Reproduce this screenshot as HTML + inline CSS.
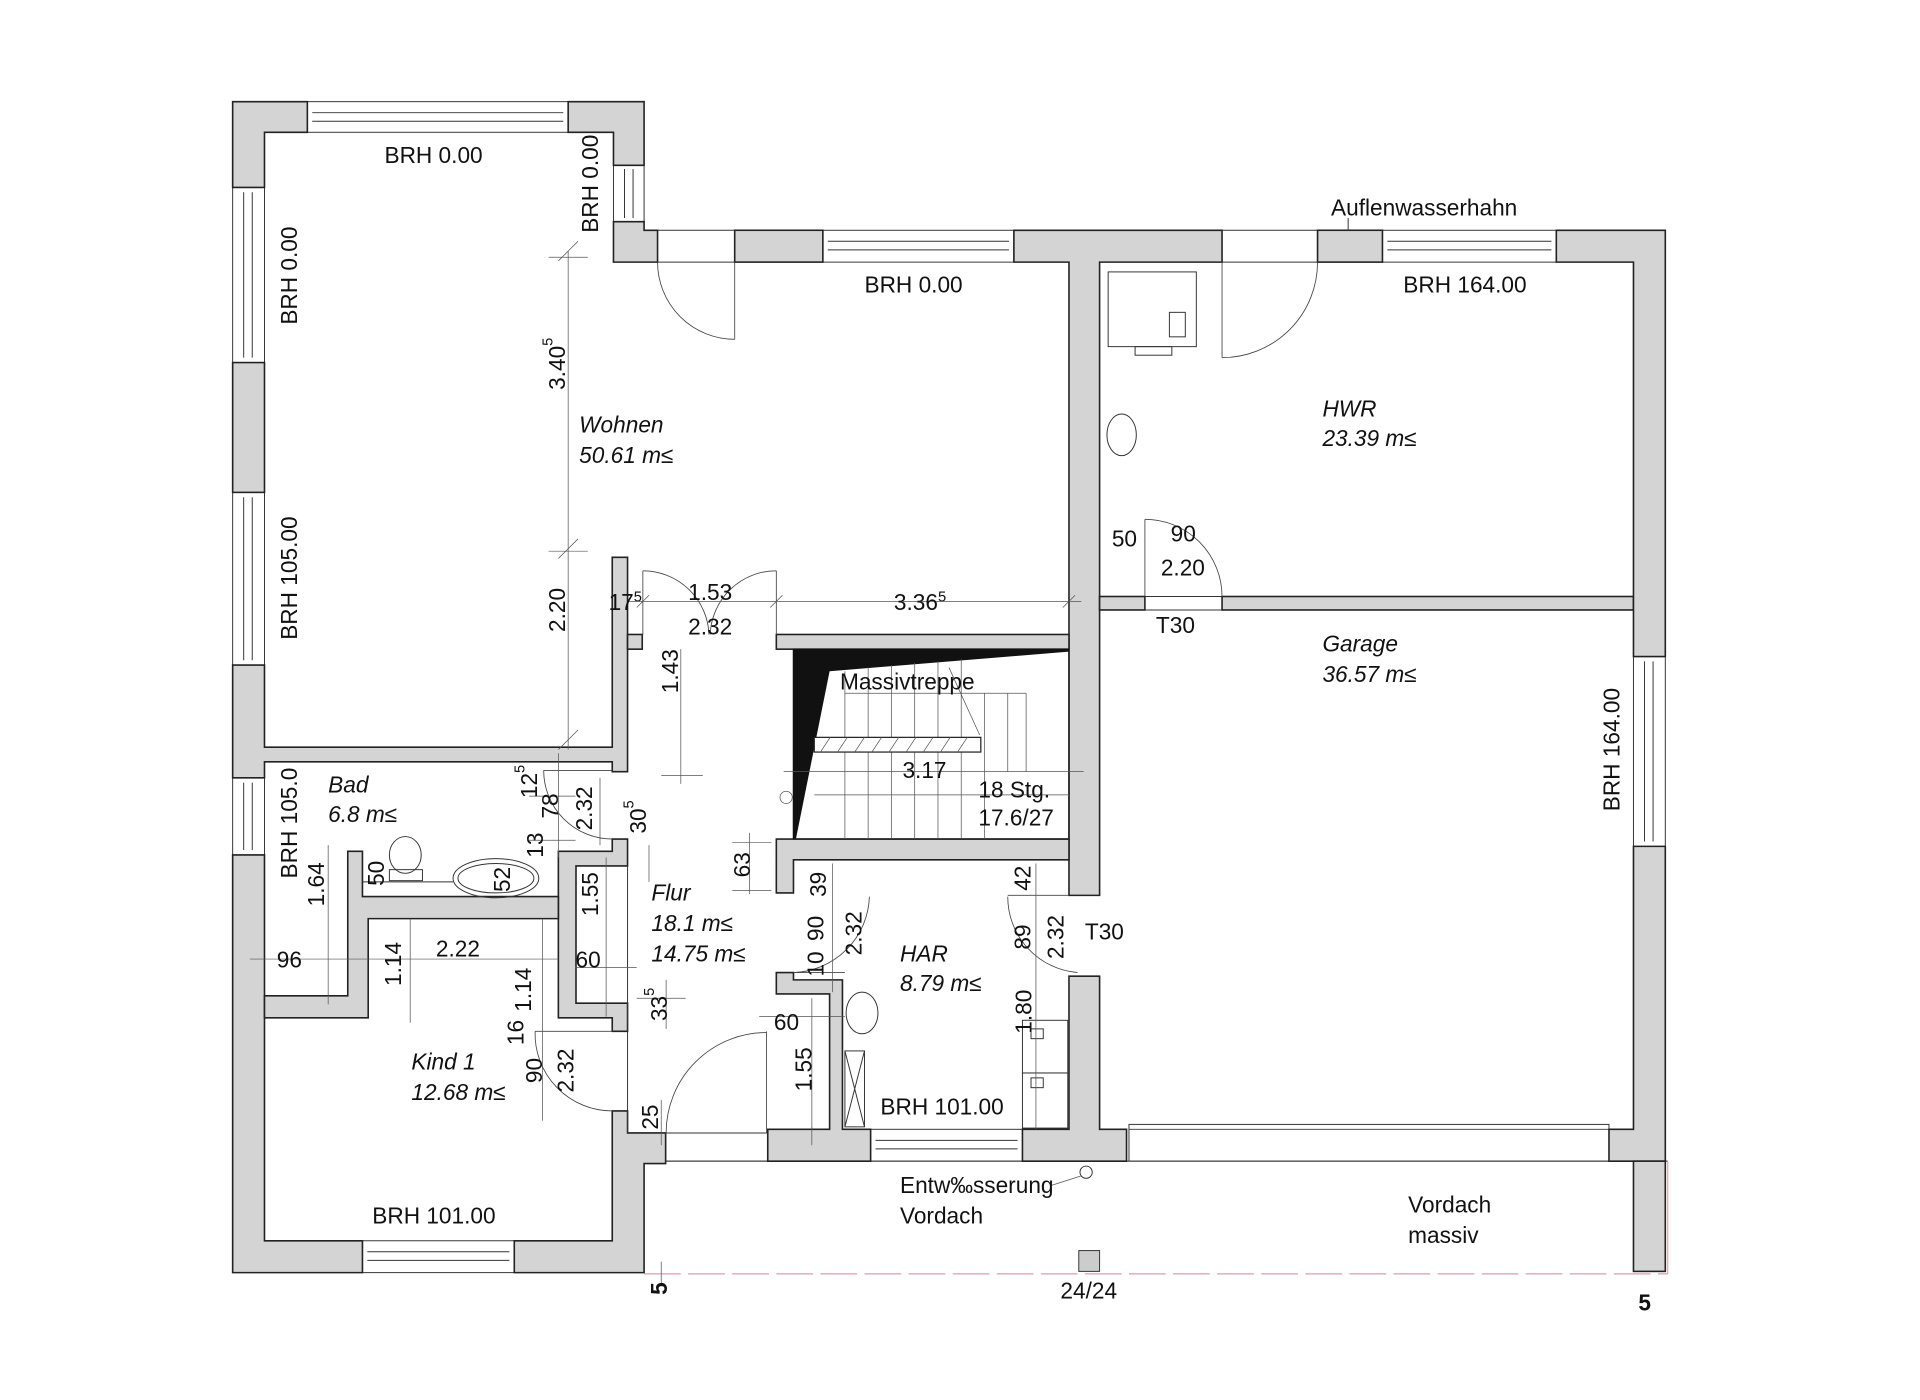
<!DOCTYPE html>
<html><head><meta charset="utf-8"><style>
html,body{margin:0;padding:0;background:#fff;}
svg{display:block;}
text{font-family:"Liberation Sans",sans-serif;font-size:18.5px;fill:#111;}
.i{font-style:italic;}
.w{fill:#d4d4d4;stroke:#222;stroke-width:1.3;}
.l{fill:none;stroke:#333;stroke-width:0.8;}
.t{fill:none;stroke:#555;stroke-width:0.6;}
</style></head><body>
<svg width="1920" height="1400" viewBox="0 0 1568 1143" preserveAspectRatio="none" xmlns="http://www.w3.org/2000/svg">
<!-- windows horizontal -->
<g class="l">
<rect x="251" y="83" width="213" height="25"/><line x1="255" y1="92" x2="460" y2="92"/><line x1="255" y1="99" x2="460" y2="99"/>
<rect x="501" y="135" width="25" height="46"/><line x1="510" y1="138" x2="510" y2="178"/><line x1="517" y1="138" x2="517" y2="178"/>
<line x1="537" y1="188" x2="600" y2="188"/><line x1="537" y1="214" x2="600" y2="214"/>
<rect x="672" y="188" width="156" height="26"/><line x1="676" y1="197" x2="824" y2="197"/><line x1="676" y1="204" x2="824" y2="204"/>
<line x1="998" y1="188" x2="1076" y2="188"/><line x1="998" y1="214" x2="1076" y2="214"/>
<rect x="1129" y="188" width="142" height="26"/><line x1="1133" y1="197" x2="1267" y2="197"/><line x1="1133" y1="204" x2="1267" y2="204"/>
<rect x="1334" y="536" width="26" height="155"/><line x1="1343" y1="540" x2="1343" y2="687"/><line x1="1350" y1="540" x2="1350" y2="687"/>
<rect x="190" y="153" width="26" height="143"/><line x1="199" y1="157" x2="199" y2="292"/><line x1="206" y1="157" x2="206" y2="292"/>
<rect x="190" y="402" width="26" height="141"/><line x1="199" y1="406" x2="199" y2="539"/><line x1="206" y1="406" x2="206" y2="539"/>
<rect x="190" y="635" width="26" height="63"/><line x1="199" y1="639" x2="199" y2="694"/><line x1="206" y1="639" x2="206" y2="694"/>
<rect x="296" y="1013" width="124" height="26"/><line x1="300" y1="1022" x2="416" y2="1022"/><line x1="300" y1="1029" x2="416" y2="1029"/>
<rect x="711" y="922" width="124" height="26"/><line x1="715" y1="931" x2="831" y2="931"/><line x1="715" y1="938" x2="831" y2="938"/>
<rect x="922" y="918" width="392" height="30"/><line x1="922" y1="922" x2="1314" y2="922"/>
<line x1="543" y1="925" x2="627" y2="925"/><line x1="543" y1="948" x2="627" y2="948"/>
<line x1="935" y1="487" x2="998" y2="487"/><line x1="935" y1="498" x2="998" y2="498"/>
<line x1="873" y1="731" x2="898" y2="731"/><line x1="873" y1="797" x2="898" y2="797"/>
</g>
<!-- Vordach -->
<g>
<line x1="526" y1="948" x2="1362" y2="948" class="l"/>
<line x1="1362" y1="948" x2="1362" y2="1040" stroke="#c99" stroke-width="0.8"/>
<line x1="526" y1="1040" x2="1362" y2="1040" stroke="#d9a0a8" stroke-width="1" stroke-dasharray="30,6"/>
<rect x="881" y="1021" width="17" height="17" fill="#ccc" stroke="#333" stroke-width="0.8"/>
<circle cx="887" cy="957" r="5" fill="#fff" stroke="#333" stroke-width="0.8"/>
<line x1="858" y1="968" x2="883" y2="960" class="t"/>
</g>
<!-- walls -->
<g class="w">
<polygon points="190,83 251,83 251,108 216,108 216,153 190,153"/>
<polygon points="464,83 526,83 526,135 501,135 501,108 464,108"/>
<polygon points="501,181 526,181 526,188 537,188 537,214 501,214"/>
<rect x="600" y="188" width="72" height="26"/>
<polygon points="828,188 998,188 998,214 898,214 898,731 873,731 873,214 828,214"/>
<rect x="898" y="487" width="37" height="11"/>
<rect x="998" y="487" width="336" height="11"/>
<rect x="1076" y="188" width="53" height="26"/>
<polygon points="1271,188 1360,188 1360,536 1334,536 1334,214 1271,214"/>
<polygon points="1334,691 1360,691 1360,948 1314,948 1314,922 1334,922"/>
<rect x="1334" y="948" width="26" height="90"/>
<polygon points="873,797 898,797 898,922 920,922 920,948 835,948 835,922 873,922"/>
<polygon points="634,794 648,794 648,800 688,800 688,922 711,922 711,948 627,948 627,922 677.5,922 677.5,811.5 634,811.5"/>
<polygon points="634,685 873,685 873,702 648,702 648,729 634,729"/>
<rect x="634" y="518" width="239" height="12"/>
<rect x="190" y="296" width="26" height="106"/>
<polygon points="190,543 216,543 216,610 500,610 500,455 512.5,455 512.5,630 500,630 500,622 216,622 216,635 190,635"/>
<rect x="512.5" y="518" width="12" height="12"/>
<polygon points="190,698 216,698 216,1013 296,1013 296,1039 190,1039"/>
<polygon points="420,1013 500,1013 500,907 512.5,907 512.5,925 543.6,925 543.6,950 526,950 526,1039 420,1039"/>
<polygon points="456,695 500,695 500,685 512.5,685 512.5,707 470.4,707 470.4,819 512.5,819 512.5,842 500,842 500,831 456,831"/>
<polygon points="284,695 296,695 296,732 456,732 456,750 300.7,750 300.7,831 216,831 216,813 284,813"/>
</g>
<line x1="512.5" y1="707" x2="512.5" y2="925" class="l"/>
<!-- stairs -->
<g>
<rect x="648" y="530" width="225" height="155" fill="none" stroke="#222" stroke-width="1.2"/>
<polygon points="647.6,530 873,530 873,532 677.5,548 650,685 647.6,685" fill="#111"/>
<g class="t">
<line x1="690" y1="566" x2="838" y2="566"/><line x1="838" y1="566" x2="838" y2="630"/>
<line x1="665" y1="649" x2="873" y2="649"/>
<line x1="640" y1="630" x2="885" y2="630"/>
<line x1="690" y1="548" x2="690" y2="685"/><line x1="709" y1="545" x2="709" y2="685"/><line x1="728" y1="543" x2="728" y2="685"/><line x1="747" y1="541" x2="747" y2="685"/><line x1="766" y1="540" x2="766" y2="685"/><line x1="785" y1="538" x2="785" y2="685"/><line x1="804" y1="566" x2="804" y2="685"/><line x1="823" y1="566" x2="823" y2="630"/>
<line x1="775" y1="545" x2="800" y2="600"/>
<circle cx="642" cy="651" r="5"/>
</g>
<rect x="665" y="602" width="136" height="12" fill="#fff" stroke="#222" stroke-width="1"/>
<g class="t"><path d="M670,614l8,-12M684,614l8,-12M698,614l8,-12M712,614l8,-12M726,614l8,-12M740,614l8,-12M754,614l8,-12M768,614l8,-12M782,614l8,-12"/></g>
</g>
<!-- doors -->
<g class="t" style="stroke:#444;stroke-width:0.7">
<line x1="600" y1="214" x2="600" y2="277"/><path d="M600,277 A63,63 0 0 1 537,214"/>
<line x1="998" y1="214" x2="998" y2="292"/><path d="M998,292 A78,78 0 0 0 1076,214"/>
<line x1="935" y1="487" x2="935" y2="424"/><path d="M935,424 A63,63 0 0 1 998,487"/>
<line x1="525" y1="518" x2="525" y2="466"/><path d="M525,466 A54,54 0 0 1 579,518"/>
<line x1="634" y1="518" x2="634" y2="466"/><path d="M634,466 A54,54 0 0 0 580,518"/>
<line x1="444" y1="629" x2="500" y2="629"/><path d="M444,629 A56,56 0 0 0 500,685"/>
<line x1="437" y1="842" x2="500" y2="842"/><path d="M437,842 A63,63 0 0 0 500,907"/>
<line x1="626" y1="925" x2="626" y2="842"/><path d="M626,843 A82,82 0 0 0 544,925"/>
<line x1="648" y1="794" x2="690" y2="794"/><path d="M648,794 A64,64 0 0 0 710,732"/>
<line x1="823" y1="731" x2="873" y2="731"/><path d="M823,732 A62,62 0 0 0 880,794"/>
</g>
<!-- fixtures -->
<g class="l">
<rect x="905" y="222" width="72" height="61"/><rect x="955" y="255" width="13" height="20"/><rect x="927" y="283" width="30" height="7"/>
<ellipse cx="916" cy="355" rx="12" ry="17"/>
<ellipse cx="331" cy="698" rx="13" ry="15"/><rect x="318" y="710" width="27" height="9"/>
<line x1="296" y1="720" x2="370" y2="720"/>
<ellipse cx="405" cy="717" rx="35" ry="16"/><ellipse cx="405" cy="717" rx="31" ry="12"/>
<ellipse cx="704" cy="827" rx="13" ry="17"/>
<rect x="690" y="858" width="16" height="62"/><path d="M690,858L706,920M706,858L690,920"/>
<rect x="835" y="833" width="37" height="43"/><rect x="835" y="876" width="37" height="45"/>
<rect x="842" y="840" width="10" height="8"/><rect x="842" y="880" width="10" height="8"/>
<line x1="1101" y1="178" x2="1101" y2="188"/>
</g>
<!-- dimension lines -->
<g class="t">
<line x1="464" y1="205" x2="464" y2="612"/><path d="M456,213l16,-16M456,456l16,-16M456,612l16,-16"/>
<line x1="448" y1="210" x2="480" y2="210"/><line x1="448" y1="450" x2="480" y2="450"/>
<line x1="513" y1="491" x2="883" y2="491"/><path d="M520,496l10,-10M629,496l10,-10M868,496l10,-10"/>
<line x1="556" y1="530" x2="556" y2="640"/><line x1="540" y1="633" x2="574" y2="633"/>
<line x1="456" y1="615" x2="456" y2="700"/><line x1="490" y1="635" x2="490" y2="690"/>
<line x1="432" y1="650" x2="470" y2="650"/><line x1="432" y1="686" x2="470" y2="686"/>
<line x1="204" y1="783" x2="300" y2="783"/><line x1="300" y1="783" x2="456" y2="783"/>
<line x1="268" y1="690" x2="268" y2="820"/><line x1="335" y1="750" x2="335" y2="835"/>
<line x1="443" y1="750" x2="443" y2="915"/><line x1="495" y1="700" x2="495" y2="830"/>
<line x1="470" y1="790" x2="520" y2="790"/><line x1="530" y1="690" x2="530" y2="720"/>
<line x1="544" y1="800" x2="544" y2="840"/><line x1="520" y1="815" x2="560" y2="815"/>
<line x1="612" y1="680" x2="612" y2="730"/><line x1="598" y1="688" x2="630" y2="688"/><line x1="598" y1="727" x2="630" y2="727"/>
<line x1="680" y1="705" x2="680" y2="810"/><line x1="663" y1="920" x2="663" y2="935"/><line x1="663" y1="815" x2="663" y2="922"/>
<line x1="846" y1="705" x2="846" y2="922"/><line x1="620" y1="830" x2="690" y2="830"/>
<line x1="540" y1="898" x2="540" y2="935"/><line x1="540" y1="1030" x2="540" y2="1050"/>
</g>
<!-- text -->
<text x="314" y="133">BRH 0.00</text>
<text x="706" y="239">BRH 0.00</text>
<text x="1146" y="239">BRH 164.00</text>
<text x="1087" y="176">Auflenwasserhahn</text>
<text x="304" y="999">BRH 101.00</text>
<text x="719" y="910">BRH 101.00</text>
<g text-anchor="middle" dominant-baseline="central">
<text transform="translate(482,150) rotate(-90)">BRH 0.00</text>
<text transform="translate(236,225) rotate(-90)">BRH 0.00</text>
<text transform="translate(236,472) rotate(-90)">BRH 105.00</text>
<text transform="translate(236,672) rotate(-90)">BRH 105.0</text>
<text transform="translate(1316,612) rotate(-90)">BRH 164.00</text>
<text transform="translate(455,297) rotate(-90)">3.40<tspan dy="-7" font-size="12">5</tspan></text>
<text transform="translate(455,498) rotate(-90)">2.20</text>
<text transform="translate(547,548) rotate(-90)">1.43</text>
<text transform="translate(432,638) rotate(-90)">12<tspan dy="-7" font-size="12">5</tspan></text>
<text transform="translate(449,658) rotate(-90)">78</text>
<text transform="translate(477,660) rotate(-90)">2.32</text>
<text transform="translate(437,690) rotate(-90)">13</text>
<text transform="translate(521,667) rotate(-90)">30<tspan dy="-7" font-size="12">5</tspan></text>
<text transform="translate(307,713) rotate(-90)">50</text>
<text transform="translate(410,718) rotate(-90)">52</text>
<text transform="translate(258,722) rotate(-90)">1.64</text>
<text transform="translate(482,730) rotate(-90)">1.55</text>
<text transform="translate(606,706) rotate(-90)">63</text>
<text transform="translate(321,787) rotate(-90)">1.14</text>
<text transform="translate(427,808) rotate(-90)">1.14</text>
<text transform="translate(421,843) rotate(-90)">16</text>
<text transform="translate(538,820) rotate(-90)">33<tspan dy="-7" font-size="12">5</tspan></text>
<text transform="translate(436,874) rotate(-90)">90</text>
<text transform="translate(462,874) rotate(-90)">2.32</text>
<text transform="translate(531,912) rotate(-90)">25</text>
<text transform="translate(656,873) rotate(-90)">1.55</text>
<text transform="translate(668,722) rotate(-90)">39</text>
<text transform="translate(666,758) rotate(-90)">90</text>
<text transform="translate(666,787) rotate(-90)">10</text>
<text transform="translate(697,762) rotate(-90)">2.32</text>
<text transform="translate(835,717) rotate(-90)">42</text>
<text transform="translate(835,765) rotate(-90)">89</text>
<text transform="translate(862,765) rotate(-90)">2.32</text>
<text transform="translate(836,826) rotate(-90)">1.80</text>
<text transform="translate(538,1052) rotate(-90)" font-weight="bold">5</text>
</g>
<text class="i" x="473" y="353">Wohnen</text>
<text class="i" x="473" y="378">50.61 m≤</text>
<text class="i" x="1080" y="340">HWR</text>
<text class="i" x="1080" y="364">23.39 m≤</text>
<text class="i" x="1080" y="532">Garage</text>
<text class="i" x="1080" y="557">36.57 m≤</text>
<text class="i" x="268" y="647">Bad</text>
<text class="i" x="268" y="671">6.8 m≤</text>
<text class="i" x="532" y="735">Flur</text>
<text class="i" x="532" y="760">18.1 m≤</text>
<text class="i" x="532" y="785">14.75 m≤</text>
<text class="i" x="336" y="873">Kind 1</text>
<text class="i" x="336" y="898">12.68 m≤</text>
<text class="i" x="735" y="785">HAR</text>
<text class="i" x="735" y="809">8.79 m≤</text>
<text x="908" y="446">50</text>
<text x="956" y="442">90</text>
<text x="948" y="470">2.20</text>
<text x="944" y="517">T30</text>
<text x="886" y="767">T30</text>
<text x="497" y="498">17<tspan dy="-7" font-size="12">5</tspan></text>
<text x="562" y="490">1.53</text>
<text x="730" y="498">3.36<tspan dy="-7" font-size="12">5</tspan></text>
<text x="562" y="518">2.32</text>
<text x="686" y="563">Massivtreppe</text>
<text x="737" y="635">3.17</text>
<text x="799" y="651">18 Stg.</text>
<text x="799" y="674">17.6/27</text>
<text x="226" y="790">96</text>
<text x="356" y="781">2.22</text>
<text x="470" y="790">60</text>
<text x="632" y="841">60</text>
<text x="735" y="974">Entw‰sserung</text>
<text x="735" y="999">Vordach</text>
<text x="1150" y="990">Vordach</text>
<text x="1150" y="1015">massiv</text>
<text x="866" y="1060">24/24</text>
<text x="1338" y="1070" font-weight="bold">5</text>
</svg>
</body></html>
